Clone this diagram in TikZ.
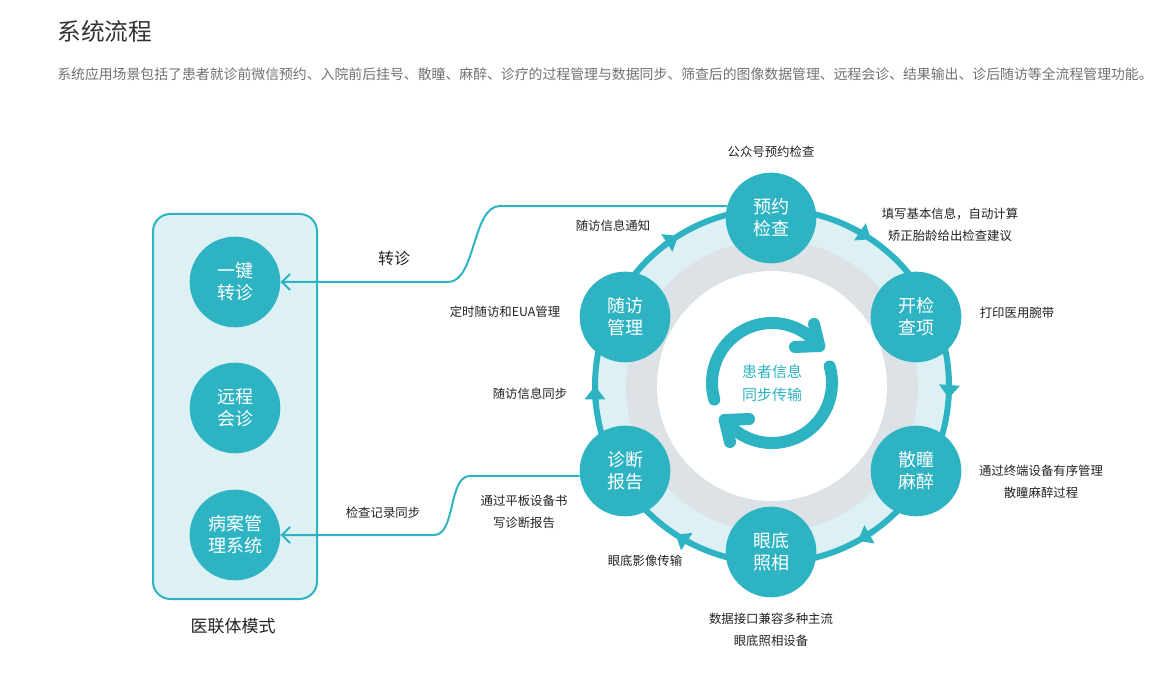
\documentclass[tikz,border=0pt]{standalone}
\usepackage{fontspec}
\setmainfont{Noto Sans CJK SC}
\usetikzlibrary{arrows.meta,positioning,calc}
\definecolor{vteal}{HTML}{2EB3C3}
\definecolor{vice}{HTML}{DDF1F5}
\definecolor{vfog}{HTML}{DCE2E5}
\definecolor{vink}{HTML}{222222}
\definecolor{vtitle}{HTML}{333333}
\definecolor{vgrey}{HTML}{707070}
\tikzset{
  stage/.style={circle,fill=vteal,text=white,minimum size=68pt,inner sep=0pt,align=center,font=\fontsize{13.5pt}{16.5pt}\selectfont},
  lbl/.style={text=vink,align=center,inner sep=1pt,font=\fontsize{9.3pt}{16.5pt}\selectfont},
  link/.style={-{Straight Barb[length=6pt,width=12pt]},line width=1.5pt,draw=vteal},
  ring/.style={draw=vteal,line width=4.5pt},
  ringarr/.style={-{Triangle[length=10pt,width=15pt]},draw=vteal,line width=4.5pt},
  cyc/.style={draw=vteal,line width=9pt,line cap=round,line join=round},
  panel/.style={draw=vteal,fill=vice,line width=1.5pt,rounded corners=13pt},
}
\begin{document}
\begin{tikzpicture}[x=0.75pt,y=-0.75pt]
  \useasboundingbox (0,0) rectangle (1164,695);
  \node[anchor=west,inner sep=0pt,text=vtitle,font=\fontsize{17.8pt}{20pt}\selectfont] (title) at (57,31) {系统流程};
  \node[anchor=west,inner sep=0pt,text=vgrey,font=\fontsize{10.4pt}{12pt}\selectfont] (intro) at (57,74) {系统应用场景包括了患者就诊前微信预约、入院前后挂号、散瞳、麻醉、诊疗的过程管理与数据同步、筛查后的图像数据管理、远程会诊、结果输出、诊后随访等全流程管理功能。};

  % ring
  \coordinate (c) at (772,386);
  \fill[vice] (c) circle[radius=177];
  \fill[vfog] (c) circle[radius=146];
  \fill[white] (c) circle[radius=115];
  \draw[ring] (c) circle[radius=177];
  \foreach \a in {56,-4,-61,-123,180,122}
    \draw[ringarr] (c) ++({-\a-6}:177) arc[start angle={-\a-6},end angle={-\a},radius=177];

  % sync icon
  \coordinate (i) at (772,383);
  \draw[cyc] (i) ++(-196:60) arc[start angle=-196,end angle=-38,radius=60];
  \draw[cyc] (814,324) -- (819.3,346) -- (795,347);
  \draw[cyc] (i) ++(-16:60) arc[start angle=-16,end angle=142,radius=60];
  \draw[cyc] (730,442) -- (724.7,420) -- (749,419);
  \node[text=vteal,align=center,font=\fontsize{11.25pt}{17pt}\selectfont] (sync) at (i) {患者信息\\同步传输};

  \node[stage] (yy) at (771,218) {预约\\检查};
  \node[stage] (kj) at (916,317) {开检\\查项};
  \node[stage] (sm) at (916,471) {散瞳\\麻醉};
  \node[stage] (yd) at (771,552) {眼底\\照相};
  \node[stage] (zd) at (625,471) {诊断\\报告};
  \node[stage] (sf) at (625,317) {随访\\管理};

  \node[lbl] (gzh) at (771,152) {公众号预约检查};
  \node[lbl] (txjb) at (950,225) {填写基本信息，自动计算\\矫正胎龄给出检查建议};
  \node[lbl] (dyyy) at (1017,313) {打印医用腕带};
  \node[lbl] (zdsb) at (1041,482) {通过终端设备有序管理\\散瞳麻醉过程};
  \node[lbl] (sjjk) at (771,630) {数据接口兼容多种主流\\眼底照相设备};
  \node[lbl] (ydyx) at (645,561) {眼底影像传输};
  \node[lbl] (pbsb) at (524,512) {通过平板设备书\\写诊断报告};
  \node[lbl] (sftb) at (530,394) {随访信息同步};
  \node[lbl] (dssf) at (505,312) {定时随访和EUA管理};
  \node[lbl] (sftz) at (613,226) {随访信息通知};

  % left panel
  \draw[panel] (153,214) rectangle (317,599);
  \node[stage] (zz) at (235,282) {一键\\转诊};
  \node[stage] (yc) at (235,408) {远程\\会诊};
  \node[stage] (ba) at (235,535) {病案管\\理系统};
  \node[text=vink,font=\fontsize{12.75pt}{15pt}\selectfont] (ylt) at (233,626) {医联体模式};

  \draw[link] (yy.165) -- (500,206) .. controls (472,206) and (476,282) .. (448,282) -- (zz.east);
  \node[text=vink,font=\fontsize{12pt}{14pt}\selectfont] (zzlbl) at (394,258) {转诊};
  \draw[link] (zd.186) -- (470,476) .. controls (448,476) and (456,535) .. (434,535) -- (ba.east);
  \node[lbl] (jcjl) at (383,513) {检查记录同步};
\end{tikzpicture}
\end{document}
